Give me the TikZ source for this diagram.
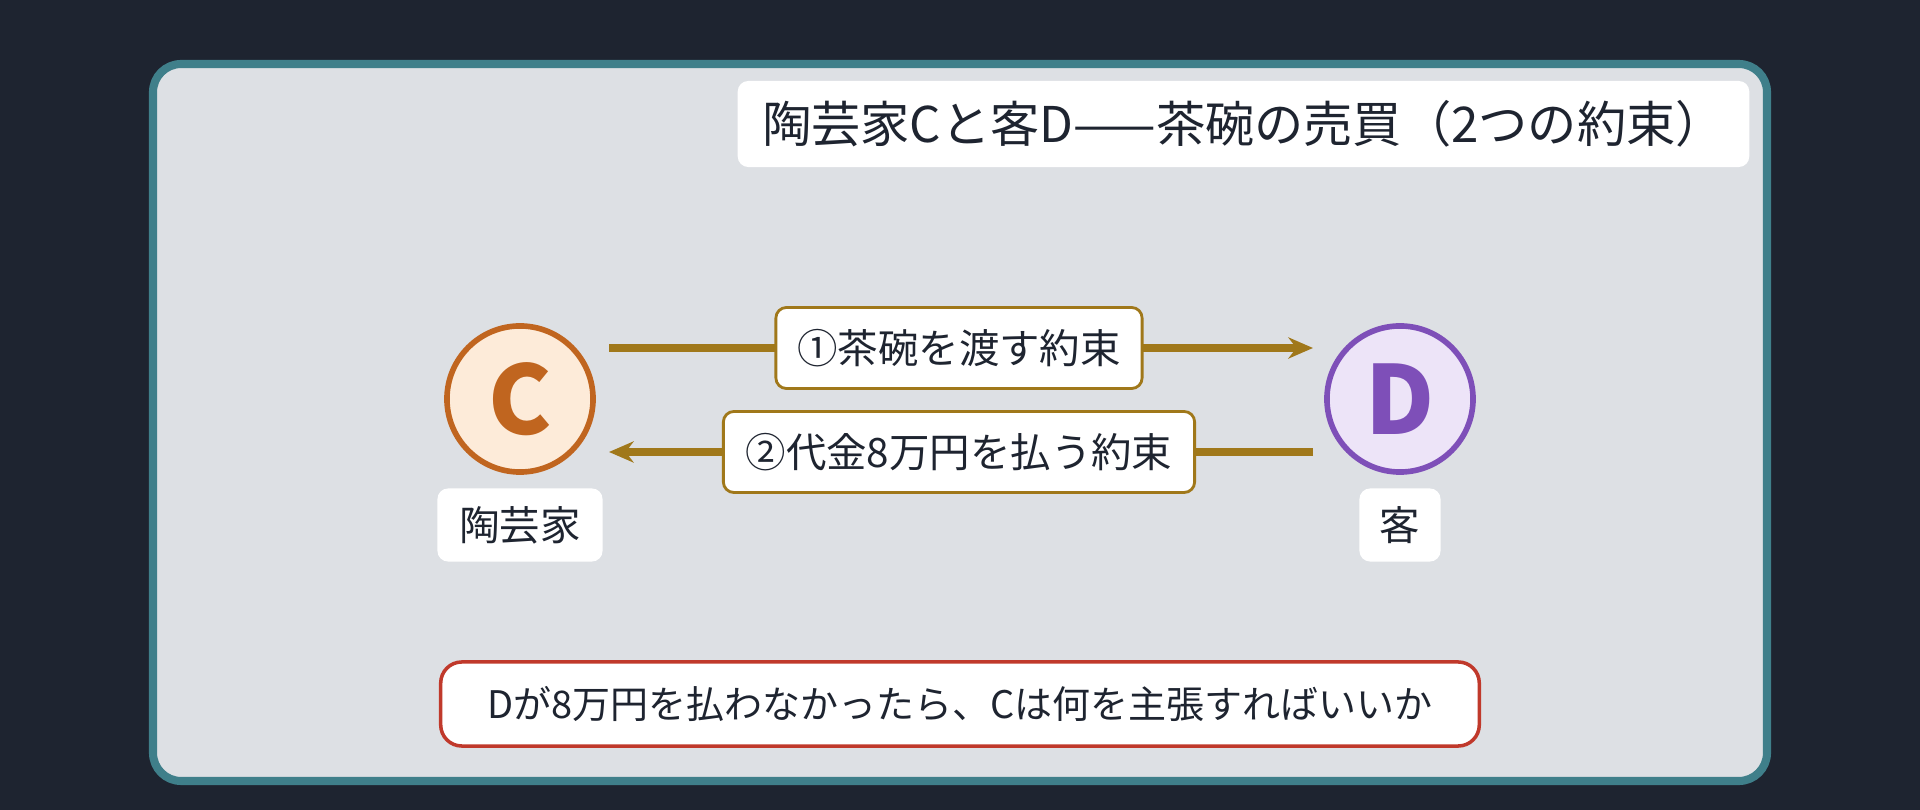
\documentclass[tikz,border=0pt]{standalone}
\usepackage{fontspec}
\setmainfont{Noto Sans CJK JP}
\usetikzlibrary{arrows.meta}
\definecolor{bgdark}{HTML}{1E2430}
\definecolor{panel}{HTML}{DDE0E4}
\definecolor{teal}{HTML}{3F7F8A}
\definecolor{arrowc}{HTML}{A0781A}
\definecolor{corange}{HTML}{C0651F}
\definecolor{cfill}{HTML}{FDEBD9}
\definecolor{dpurple}{HTML}{7E4FB8}
\definecolor{dfill}{HTML}{EDE4F8}
\definecolor{redb}{HTML}{C0392B}
\definecolor{ink}{HTML}{1E2430}

\begin{document}
\begin{tikzpicture}[x=0.01cm,y=-0.01cm,
    party/.style={circle,line width=1.6pt,minimum size=1.46cm,inner sep=0pt,font=\fontsize{27}{27}\selectfont\bfseries},
    tag/.style={fill=white,rounded corners=3pt,text=ink,font=\fontsize{11.5}{11.5}\selectfont,inner sep=0pt},
    deal/.style={tag,draw=arrowc,line width=0.8pt},
    flow/.style={arrowc,line width=2pt,-{Stealth[length=7pt,width=6pt]}}]
  \fill[bgdark] (0,0) rectangle (1920,810);
  \draw[teal,fill=panel,line width=2.3pt,rounded corners=8pt] (153,64) rectangle (1767,781);
  % title
  \node[tag,minimum width=10.11cm,minimum height=0.86cm,font=\fontsize{14}{14}\selectfont] (title) at (1243.5,124) {陶芸家Cと客D——茶碗の売買（2つの約束）};
  % parties
  \node[party,draw=corange,fill=cfill,text=corange] (C) at (520,399) {C};
  \node[party,draw=dpurple,fill=dfill,text=dpurple] (D) at (1400,399) {D};
  \node[tag,minimum width=1.65cm,minimum height=0.73cm] (Clabel) at (520,525) {陶芸家};
  \node[tag,minimum width=0.81cm,minimum height=0.73cm] (Dlabel) at (1400,525) {客};
  \coordinate (a1) at (609,348);
  \coordinate (b1) at (1313,348);
  \coordinate (a2) at (1313,452);
  \coordinate (b2) at (609,452);
  \draw[flow] (a1) -- (b1);
  \draw[flow] (a2) -- (b2);
  \node[deal,minimum width=3.66cm,minimum height=0.81cm] (give) at (959,348) {①茶碗を渡す約束};
  \node[deal,minimum width=4.71cm,minimum height=0.81cm] (pay) at (959,452) {②代金8万円を払う約束};
  % question
  \node[tag,draw=redb,line width=1pt,rounded corners=6pt,minimum width=10.38cm,minimum height=0.84cm,font=\fontsize{10.8}{10.8}\selectfont] (question) at (960,704) {Dが8万円を払わなかったら、Cは何を主張すればいいか};
\end{tikzpicture}
\end{document}
